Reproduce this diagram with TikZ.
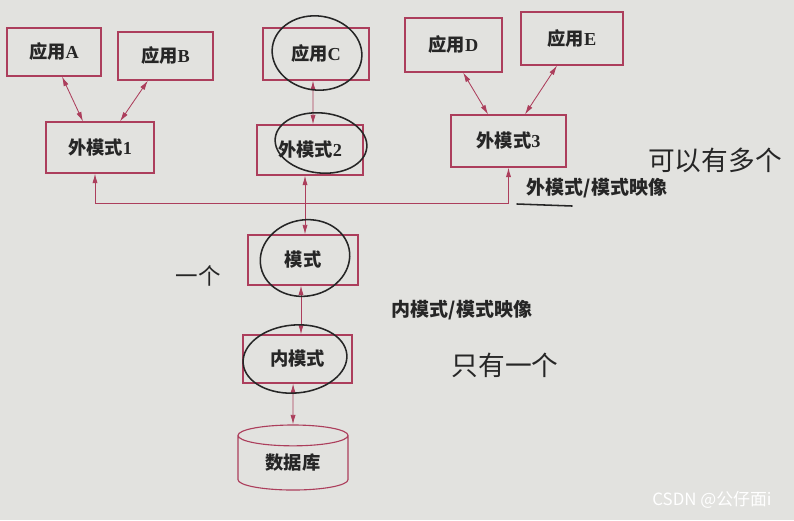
\documentclass[tikz,border=0pt]{standalone}
\usepackage{fontspec}
\setmainfont{Liberation Serif}
\newfontfamily\cjk{Noto Sans CJK SC}
\usetikzlibrary{shapes.geometric,arrows.meta,positioning,calc}
\definecolor{paper}{RGB}{226,226,223}
\definecolor{rim}{RGB}{172,62,92}
\definecolor{pen}{RGB}{38,38,38}

\begin{document}
\begin{tikzpicture}[
    x=0.025cm, y=-0.025cm,
    schemabox/.style={rectangle, draw=rim, line width=0.8pt, inner sep=0pt, text=black!85, font=\bfseries\fontsize{13pt}{15pt}\selectfont},
    dbbox/.style={cylinder, shape border rotate=90, draw=rim, line width=0.8pt, aspect=0.38, inner sep=0pt, text=black!85, font=\bfseries\fontsize{13pt}{15pt}\selectfont},
    link/.style={draw=rim, line width=0.6pt, {Latex[length=2.4mm,width=1.3mm]}-{Latex[length=2.4mm,width=1.3mm]}},
    uplink/.style={draw=rim, line width=0.6pt, -{Latex[length=2.4mm,width=1.3mm]}},
    caption/.style={font=\cjk\bfseries\fontsize{13.5pt}{15pt}\selectfont, text=black!85},
    ink/.style={draw=pen, line width=1.1pt, line cap=round},
    note/.style={font=\cjk\fontsize{19pt}{21pt}\selectfont, text=pen}
]

% Paper
\fill[paper] (0,0) rectangle (794,520);

% Applications
\node[schemabox, minimum width=2.35cm, minimum height=1.2cm] (appA) at (54,52) {{\cjk 应用}A};
\node[schemabox, minimum width=2.375cm, minimum height=1.2cm] (appB) at (165.5,56) {{\cjk 应用}B};
\node[schemabox, minimum width=2.65cm, minimum height=1.3cm] (appC) at (316,54) {{\cjk 应用}C};
\node[schemabox, minimum width=2.425cm, minimum height=1.35cm] (appD) at (453.5,45) {{\cjk 应用}D};
\node[schemabox, minimum width=2.55cm, minimum height=1.325cm] (appE) at (572,38.5) {{\cjk 应用}E};

% External schemas
\node[schemabox, minimum width=2.7cm, minimum height=1.275cm] (ext1) at (100,147.5) {{\cjk 外模式}1};
\node[schemabox, minimum width=2.65cm, minimum height=1.25cm] (ext2) at (310,150) {{\cjk 外模式}2};
\node[schemabox, minimum width=2.875cm, minimum height=1.3cm] (ext3) at (508.5,141) {{\cjk 外模式}3};

% Schema, internal schema, database
\node[schemabox, minimum width=2.75cm, minimum height=1.25cm] (schema) at (303,260) {\cjk 模式};
\node[schemabox, minimum width=2.725cm, minimum height=1.2cm] (inner) at (297.5,359) {\cjk 内模式};
\node[dbbox, minimum width=2.75cm, minimum height=1.625cm] (db) at (293,463) {\cjk 数据库};

% Mapping labels
\node[caption] (extmap) at (597,188) {外模式/模式映像};
\node[caption] (intmap) at (462,310) {内模式/模式映像};

% Arrows
\draw[link] ([xshift=0.2cm]appA.south) -- ([xshift=-0.425cm]ext1.north);
\draw[link] ([xshift=-0.44cm]appB.south) -- ([xshift=0.5cm]ext1.north);
\draw[link] ([xshift=-0.075cm]appC.south) -- ([xshift=0.075cm]ext2.north);
\draw[link] ([xshift=0.24cm]appD.south) -- ([xshift=-0.51cm]ext3.north);
\draw[link] ([xshift=-0.375cm]appE.south) -- ([xshift=0.41cm]ext3.north);
\draw[link] ([xshift=0.05cm]schema.north) -- ([xshift=0.05cm]schema.north |- ext2.south);
\draw[link] ([xshift=-0.05cm]schema.south) -- ([xshift=-0.05cm]schema.south |- inner.north);
\draw[link] ([xshift=-0.11cm]inner.south) -- (db.north);

% Mapping bus
\coordinate (bus) at (305,203);
\draw[uplink] (bus) -| ([xshift=-0.125cm]ext1.south);
\draw[uplink] (bus) -| (ext3.south);

% Handwritten notes
\draw[ink, rotate around={-8:(317,53)}] (317,53) ellipse [x radius=1.125cm, y radius=0.925cm];
\draw[ink, rotate around={-6:(321,143)}] (321,143) ellipse [x radius=1.15cm, y radius=0.75cm];
\draw[ink, rotate around={12:(305,258)}] (305,258) ellipse [x radius=1.125cm, y radius=0.95cm];
\draw[ink, rotate around={5:(295,359)}] (295,359) ellipse [x radius=1.3cm, y radius=0.85cm];
\draw[ink] (517,204) -- (572,206);
\node[note] (many) at (715,160) {可以有多个};
\node[note] (onlyone) at (505,365) {只有一个};
\node[note, font=\cjk\fontsize{16pt}{18pt}\selectfont] (one) at (198,276) {一个};

% Watermark
\node[font=\cjk\fontsize{12pt}{14pt}\selectfont, text=white] (mark) at (712,500) {CSDN @公仔面i};

\end{tikzpicture}
\end{document}
